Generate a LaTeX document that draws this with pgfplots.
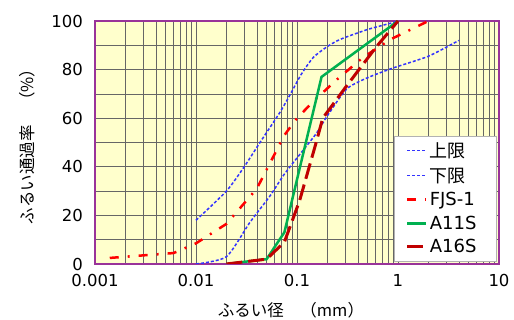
\documentclass[border=0pt]{standalone}
\usepackage{fontspec}
\setmainfont{DejaVu Sans}
\newfontfamily\cjk{Noto Sans CJK JP}
\usepackage{pgfplots}
\pgfplotsset{compat=1.18}
\definecolor{bgyellow}{RGB}{255,255,204}
\definecolor{axpurple}{RGB}{153,51,153}
\definecolor{limblue}{RGB}{51,51,255}
\definecolor{fjsred}{RGB}{255,0,0}
\definecolor{agreen}{RGB}{0,176,80}
\definecolor{adarkred}{RGB}{192,0,0}
\begin{document}
\begin{tikzpicture}
\useasboundingbox (-95bp,-56bp) rectangle (419bp,264bp);
\begin{axis}[
  at={(0,0)}, anchor=south west,
  scale only axis, width=404bp, height=243bp,
  xmode=log, xmin=0.001, xmax=10, ymin=0, ymax=100,
  xtick={0.001,0.01,0.1,1,10}, xticklabels={0.001,0.01,0.1,1,10},
  minor xtick={0.002,0.003,0.004,0.005,0.006,0.007,0.008,0.009,
               0.02,0.03,0.04,0.05,0.06,0.07,0.08,0.09,
               0.2,0.3,0.4,0.5,0.6,0.7,0.8,0.9,
               2,3,4,5,6,7,8,9},
  ytick={0,20,40,60,80,100}, yticklabels={0,20,40,60,80,100},
  minor ytick={10,30,50,70,90},
  xmajorgrids, xminorgrids, ymajorgrids, yminorgrids,
  major grid style={draw=black!60, line width=0.6bp},
  minor grid style={draw=black!60, line width=0.6bp},
  major tick length=0pt, minor tick length=0pt,
  axis background/.style={fill=bgyellow},
  axis line style={draw=axpurple, line width=1.5bp},
  /pgf/number format/assume math mode=true,
  xticklabel style={font=\fontsize{16.5bp}{18bp}\selectfont, yshift=-7bp},
  yticklabel style={font=\fontsize{16.5bp}{18bp}\selectfont, xshift=-8.5bp},
  xlabel={\cjk ふるい径　（mm）},
  ylabel={\cjk ふるい通過率　（\%）},
  every axis x label/.style={at={(rel axis cs:0.5,0)}, xshift=-6bp, yshift=-46bp, anchor=center, font=\fontsize{16.5bp}{18bp}\selectfont},
  every axis y label/.style={at={(rel axis cs:0,0.5)}, xshift=-67.5bp, rotate=90, anchor=center, font=\fontsize{16.5bp}{18bp}\selectfont},
  legend cell align=left,
  legend image code/.code={\draw[#1] (0bp,0bp) -- (19bp,0bp);},
  legend style={at={(1,0)}, anchor=south east, xshift=-3bp, yshift=3bp,
    draw=black!30, fill=white, font=\fontsize{18bp}{20bp}\selectfont,
    inner xsep=12bp, inner ysep=4.5bp, row sep=4.75bp},
]
\addplot[limblue, line width=1.5bp, dash pattern=on 3bp off 2bp, smooth, tension=0.4] coordinates {
(0.01,18) (0.02,30) (0.03,40) (0.043,50) (0.068,62.5) (0.085,69.5) (0.11,78) (0.145,85) (0.2,89.5) (0.27,92.5) (0.5,96.5) (0.83,99) (1,100)};
\addlegendentry{\makebox[52bp][l]{\cjk 上限}}
\addplot[limblue, line width=1.5bp, dash pattern=on 3bp off 2bp, smooth, tension=0.4] coordinates {
(0.01,0) (0.02,3) (0.034,17) (0.054,28) (0.075,37) (0.116,47) (0.157,54) (0.2,61) (0.31,72) (0.49,76.5) (0.9,80.7) (2,85.5) (4,92)};
\addlegendentry{\makebox[52bp][l]{\cjk 下限}}
\addplot[fjsred, line width=2.5bp, dash pattern=on 9bp off 9bp on 2bp off 9bp] coordinates {
(0.0014,2.5) (0.006,4.5) (0.01,8.5) (0.02,16.5) (0.04,31) (0.075,53) (0.1,60) (0.15,67.5) (0.25,76) (0.45,85) (0.85,92.5) (2,100)};
\addlegendentry{\makebox[52bp][l]{FJS-1}}
\addplot[agreen, line width=2.5bp] coordinates {
(0.02,0) (0.05,2) (0.075,13) (0.175,77) (1,100)};
\addlegendentry{\makebox[52bp][l]{A11S}}
\addplot[adarkred, line width=3bp, dash pattern=on 16bp off 6bp] coordinates {
(0.02,0) (0.05,2) (0.075,9) (0.106,26) (0.15,48) (0.18,60) (0.3,72.5) (0.6,89) (1,100)};
\addlegendentry{\makebox[52bp][l]{A16S}}
\end{axis}
\end{tikzpicture}
\end{document}
